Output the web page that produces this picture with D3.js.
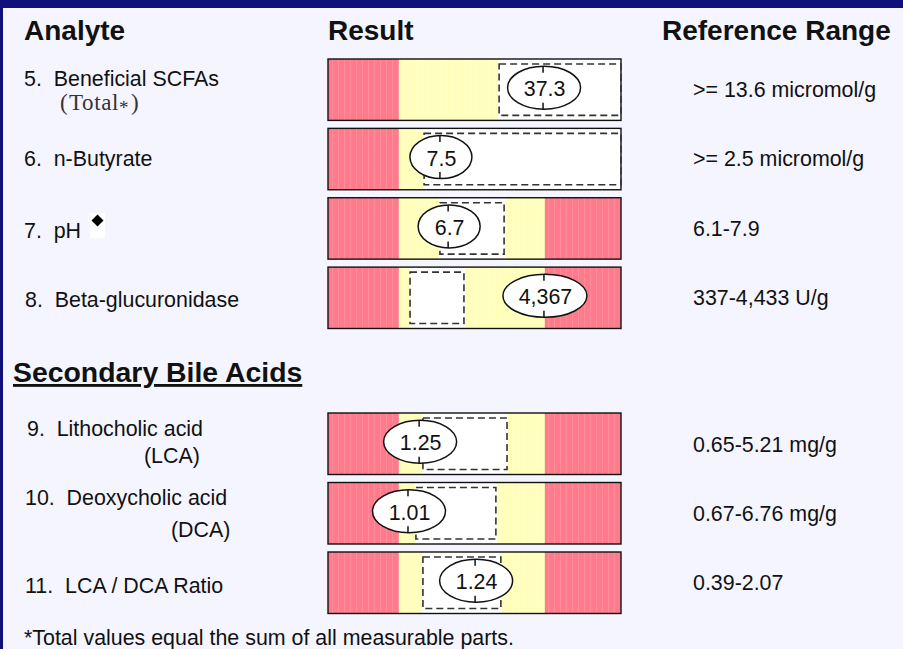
<!DOCTYPE html>
<html>
<head>
<meta charset="utf-8">
<script src="https://d3js.org/d3.v7.min.js"></script>
<style>
  html, body { margin: 0; padding: 0; background: #f5f5ff; overflow: hidden; }
  svg { display: block; }
  text { font-family: "Liberation Sans", Arial, sans-serif; fill: #111; white-space: pre; }
</style>
</head>
<body>
<div id="chart"></div>
<script>
// values, positions along the bar are in % of the bar width
const firstGroup = ["SCFA", "Butyrate", "pH", "Glucuronidase"];
const secondGroup = ["LCA", "DCA", "Ratio"];
const resultLabels = ["37.3", "7.5", "6.7", "4,367", "1.25", "1.01", "1.24"];
const resultPos = [73.4, 38.2, 41.0, 73.7, 31.1, 27.3, 50.2];
const patientLow = [58.4, 32.8, 38.2, 28.0, 32.4, 30.0, 32.4];
const patientHigh = [100, 100, 60.1, 46.4, 61.1, 57.3, 59.0];
const normalLow = [24.2, 24.2, 24.2, 24.2, 24.2, 24.2, 24.2];
const normalHigh = [100, 100, 74, 74, 74, 74, 74];
const rangeLabels = [
    ">= 13.6 micromol/g", ">= 2.5 micromol/g", "6.1-7.9", "337-4,433 U/g",
    "0.65-5.21 mg/g", "0.67-6.76 mg/g", "0.39-2.07"
];
const analyteLabels = [
    "5.  Beneficial SCFAs", "6.  n-Butyrate", "7.  pH", "8.  Beta-glucuronidase",
    "9.  Lithocholic acid", "10.  Deoxycholic acid", "11.  LCA / DCA Ratio"
];

const width = 903, height = 649;
const svg = d3.select("#chart").append("svg")
    .attr("width", width)
    .attr("height", height);

const defs = svg.append("defs");
function stripes(id, base, line) {
    const p = defs.append("pattern")
        .attr("id", id)
        .attr("patternUnits", "userSpaceOnUse")
        .attr("width", 6).attr("height", 10);
    p.append("rect").attr("width", 6).attr("height", 10).attr("fill", base);
    p.append("rect").attr("x", 2).attr("width", 1).attr("height", 10).attr("fill", line);
}
stripes("redFill", "#ff7a8b", "#ff8c9b");
stripes("yellowFill", "#ffffb9", "#ffffc6");

// page frame
svg.append("rect").attr("width", width).attr("height", height).attr("fill", "#f5f5ff");
svg.append("rect").attr("width", width).attr("height", 8).attr("fill", "#10107a");
svg.append("rect").attr("width", 3).attr("height", height).attr("fill", "#10107a");

const x = d3.scaleLinear().domain([0, 100]).range([328, 621]);
const y1 = d3.scaleBand().domain(firstGroup).range([59, 328.5]).paddingInner(0.115);
const y2 = d3.scaleBand().domain(secondGroup).range([413, 613.5]).paddingInner(0.115);

const rows = firstGroup.map(k => ({ top: y1(k), h: y1.bandwidth() }))
    .concat(secondGroup.map(k => ({ top: y2(k), h: y2.bandwidth() })))
    .map((r, i) => ({
        ...r,
        label: resultLabels[i],
        pos: resultPos[i],
        low: patientLow[i],
        high: patientHigh[i],
        nLow: normalLow[i],
        nHigh: normalHigh[i]
    }));

const bar = svg.selectAll("g.bar")
    .data(rows)
    .join("g")
    .attr("class", "bar")
    .attr("transform", d => `translate(0,${d.top})`);

// whole bar is red, the normal zone goes on top, then the white patient band
bar.append("rect")
    .attr("x", x(0)).attr("width", x(100) - x(0))
    .attr("height", d => d.h)
    .attr("fill", "url(#redFill)");
bar.append("rect")
    .attr("x", d => x(d.nLow))
    .attr("width", d => x(d.nHigh) - x(d.nLow))
    .attr("height", d => d.h)
    .attr("fill", "url(#yellowFill)");
bar.append("rect")
    .attr("x", d => x(d.low) - 1)
    .attr("width", d => x(d.high) - x(d.low) + 2)
    .attr("height", d => d.h)
    .attr("fill", "#fff");
bar.append("rect")
    .attr("x", x(0)).attr("width", x(100) - x(0))
    .attr("height", d => d.h)
    .attr("fill", "none")
    .attr("stroke", "#111")
    .attr("stroke-width", 1.4);
bar.append("rect")
    .attr("x", d => x(d.low))
    .attr("y", 5)
    .attr("width", d => x(d.high) - x(d.low))
    .attr("height", d => d.h - 10)
    .attr("fill", "none")
    .attr("stroke", "#333")
    .attr("stroke-width", 1.6)
    .attr("stroke-dasharray", "7,4");

// result marker
const marker = bar.append("g")
    .attr("transform", d => `translate(${x(d.pos)},${d.h / 2 - 2})`);
marker.append("ellipse")
    .attr("cx", 1)
    .attr("rx", d => 14.5 + 5.5 * d.label.length)
    .attr("ry", 21.5)
    .attr("fill", "#fff")
    .attr("stroke", "#111")
    .attr("stroke-width", 1.5);
marker.selectAll("line")
    .data([[-21.5, -15], [15, 21.5]])
    .join("line")
    .attr("y1", d => d[0]).attr("y2", d => d[1])
    .attr("stroke", "#111")
    .attr("stroke-width", 1.5);
marker.append("text")
    .attr("x", 1.5).attr("y", 8.5)
    .attr("text-anchor", "middle")
    .style("font-size", "21.4px")
    .text(d => d.label);

function addText(txt, tx, ty, size, weight) {
    return svg.append("text")
        .attr("x", tx).attr("y", ty)
        .style("font-size", size + "px")
        .style("font-weight", weight || "normal")
        .text(txt);
}

// headers
addText("Analyte", 24, 40, 28, "bold");
addText("Result", 328, 40, 28, "bold");
addText("Reference Range", 662, 40, 28, "bold");
addText("Secondary Bile Acids", 13, 382, 28.4, "bold")
    .style("text-decoration", "underline");

// analyte names
const labelX = [24, 24, 24, 25, 27, 25, 25];
const labelY = [85.5, 165.5, 237.5, 306.5, 435.5, 504.5, 592.5];
analyteLabels.forEach((s, i) => addText(s, labelX[i], labelY[i], 21.4));
addText("(LCA)", 144, 462.5, 21.4);
addText("(DCA)", 171, 536.5, 21.4);

// (Total*) is in a serif face in the original, with wide brackets
const total = svg.append("text")
    .attr("y", 110)
    .style("font-family", "'Liberation Serif', serif")
    .style("font-size", "23px")
    .style("fill", "#333");
total.append("tspan").attr("x", 60).text("(");
total.append("tspan").attr("x", 69).style("letter-spacing", "0.6px").text("Total");
total.append("tspan").attr("x", 119).attr("y", 114).style("font-size", "19px").text("*");
total.append("tspan").attr("x", 131).attr("y", 110).text(")");

// reference ranges
const rangeY = [96.5, 165.5, 235.5, 304.5, 451.5, 520.5, 589.5];
rangeLabels.forEach((s, i) => addText(s, 693, rangeY[i], 21.4));

// little diamond flag beside pH
svg.append("rect")
    .attr("x", 90).attr("y", 213).attr("width", 15).attr("height", 25)
    .attr("fill", "#fff");
svg.append("path")
    .attr("d", d3.symbol(d3.symbolSquare, 72)())
    .attr("transform", "translate(97.5,220.5) rotate(45)")
    .attr("fill", "#000");

addText("*Total values equal the sum of all measurable parts.", 24, 644.5, 21.4);
</script>
</body>
</html>
